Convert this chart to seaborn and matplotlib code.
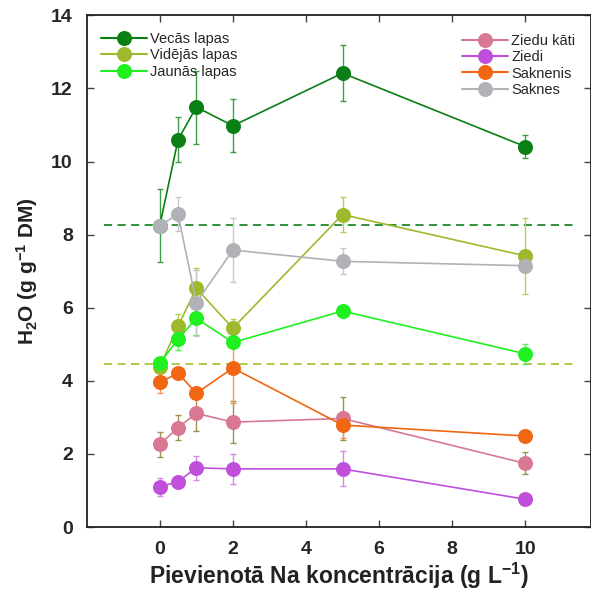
import numpy as np
import matplotlib
matplotlib.use("Agg")
import matplotlib.pyplot as plt
from matplotlib.lines import Line2D
import seaborn as sns

# ---- data ----
x_vals = [0, 0.5, 1, 2, 5, 10]

names = ["Vecās lapas", "Vidējās lapas", "Jaunās lapas",
         "Ziedu kāti", "Ziedi", "Saknenis", "Saknes"]

vecas = [8.25, 10.60, 11.49, 10.98, 12.42, 10.41]
vecas_err = [1.0, 0.62, 1.0, 0.73, 0.77, 0.31]

videjas = [4.38, 5.50, 6.53, 5.44, 8.55, 7.42]
videjas_err = [0.10, 0.32, 0.55, 0.25, 0.47, 1.04]

jaunas = [4.48, 5.14, 5.71, 5.05, 5.91, 4.74]
jaunas_err = [0.10, 0.31, 0.45, 0.10, 0.15, 0.27]

ziedu_kati = [2.26, 2.72, 3.11, 2.87, 2.97, 1.74]
ziedu_kati_err = [0.34, 0.35, 0.47, 0.57, 0.58, 0.30]

ziedi = [1.10, 1.24, 1.62, 1.59, 1.59, 0.76]
ziedi_err = [0.25, 0.05, 0.33, 0.40, 0.48, 0.05]

saknenis = [3.96, 4.21, 3.66, 4.35, 2.79, 2.49]
saknenis_err = [0.28, 0.05, 0.05, 0.95, 0.35, 0.05]

saknes = [8.25, 8.56, 6.14, 7.58, 7.27, 7.15]
saknes_err = [0.05, 0.47, 0.90, 0.87, 0.36, 0.05]

ref_vecas = 8.27
ref_videjas = 4.46

series = [vecas, videjas, jaunas, ziedu_kati, ziedi, saknenis, saknes]
errors = [vecas_err, videjas_err, jaunas_err, ziedu_kati_err, ziedi_err, saknenis_err, saknes_err]

colors = ["#0a7f14", "#9dba2c", "#20f020", "#d87893", "#c050dc", "#f06612", "#b1b1b8"]
err_colors = ["#3e9e48", "#b7cf5a", "#55f055", "#a08f55", "#d68ae8", "#f59555", "#c8c8cc"]

# ---- style ----
sns.set_style("ticks")
plt.rcParams["font.family"] = ["Liberation Sans", "DejaVu Sans"]
plt.rcParams["mathtext.fontset"] = "custom"
plt.rcParams["mathtext.rm"] = "Liberation Sans"
plt.rcParams["mathtext.bf"] = "Liberation Sans:bold"
plt.rcParams["mathtext.default"] = "bf"

fig = plt.figure(figsize=(5.91, 5.92), dpi=100)
ax = fig.add_axes([86.7 / 591, 65 / 592, (591 - 86.7) / 591, (527.3 - 15.7) / 592])

ms = 10.8
for i, (yv, ev) in enumerate(zip(series, errors)):
    ax.errorbar(x_vals, yv, yerr=ev, fmt="none", ecolor=err_colors[i],
                elinewidth=1.0, capsize=2.5, capthick=1.0, zorder=2 + i * 0.1)
for i, yv in enumerate(series):
    sns.lineplot(x=x_vals, y=yv, ax=ax, color=colors[i], marker="o",
                 markersize=ms, markeredgewidth=0, linewidth=1.2,
                 zorder=3 + i * 0.1, legend=False)

# reference dashed lines
ax.plot([-1.54, 11.37], [ref_vecas, ref_vecas], color="#1e8a2a",
        lw=1.3, ls=(0, (4.5, 3)), zorder=1.5)
ax.plot([-1.54, 11.37], [ref_videjas, ref_videjas], color="#a8c43c",
        lw=1.3, ls=(0, (4.5, 3)), zorder=1.5)

ax.set_xlim(-2, 11.8)
ax.set_ylim(0, 14)
ax.set_xticks([0, 2, 4, 6, 8, 10])
ax.set_yticks([0, 2, 4, 6, 8, 10, 12, 14])
ax.tick_params(direction="in", length=5, width=1, top=True, right=True,
               labelsize=14, pad=10, color="#444444")
for lab in ax.get_xticklabels() + ax.get_yticklabels():
    lab.set_fontweight("bold")
for s in ax.spines.values():
    s.set_linewidth(1.3)
    s.set_color("#222222")

ax.set_xlabel("Pievienotā Na koncentrācija (g L$^{-1}$)", fontsize=16.5,
              fontweight="bold", labelpad=2, color="#222222")
ax.set_ylabel("H$_2$O (g g$^{-1}$ DM)", fontsize=15, fontweight="bold",
              labelpad=8, color="#222222")

def handles(idx):
    return [Line2D([], [], color=colors[i], marker="o", markersize=ms,
                   markeredgewidth=0, lw=1.5) for i in idx]

leg_kw = dict(loc="upper left", frameon=False, fontsize=10.5,
              handlelength=3.2, handletextpad=0.2, borderpad=0,
              borderaxespad=0, labelspacing=0.165)
leg1 = ax.legend(handles(range(3)), names[:3],
                 bbox_to_anchor=(0.0278, 0.9677), **leg_kw)
ax.add_artist(leg1)
ax.legend(handles(range(3, 7)), names[3:],
          bbox_to_anchor=(0.7436, 0.9642), **leg_kw)

fig.savefig("out.png", dpi=100)
